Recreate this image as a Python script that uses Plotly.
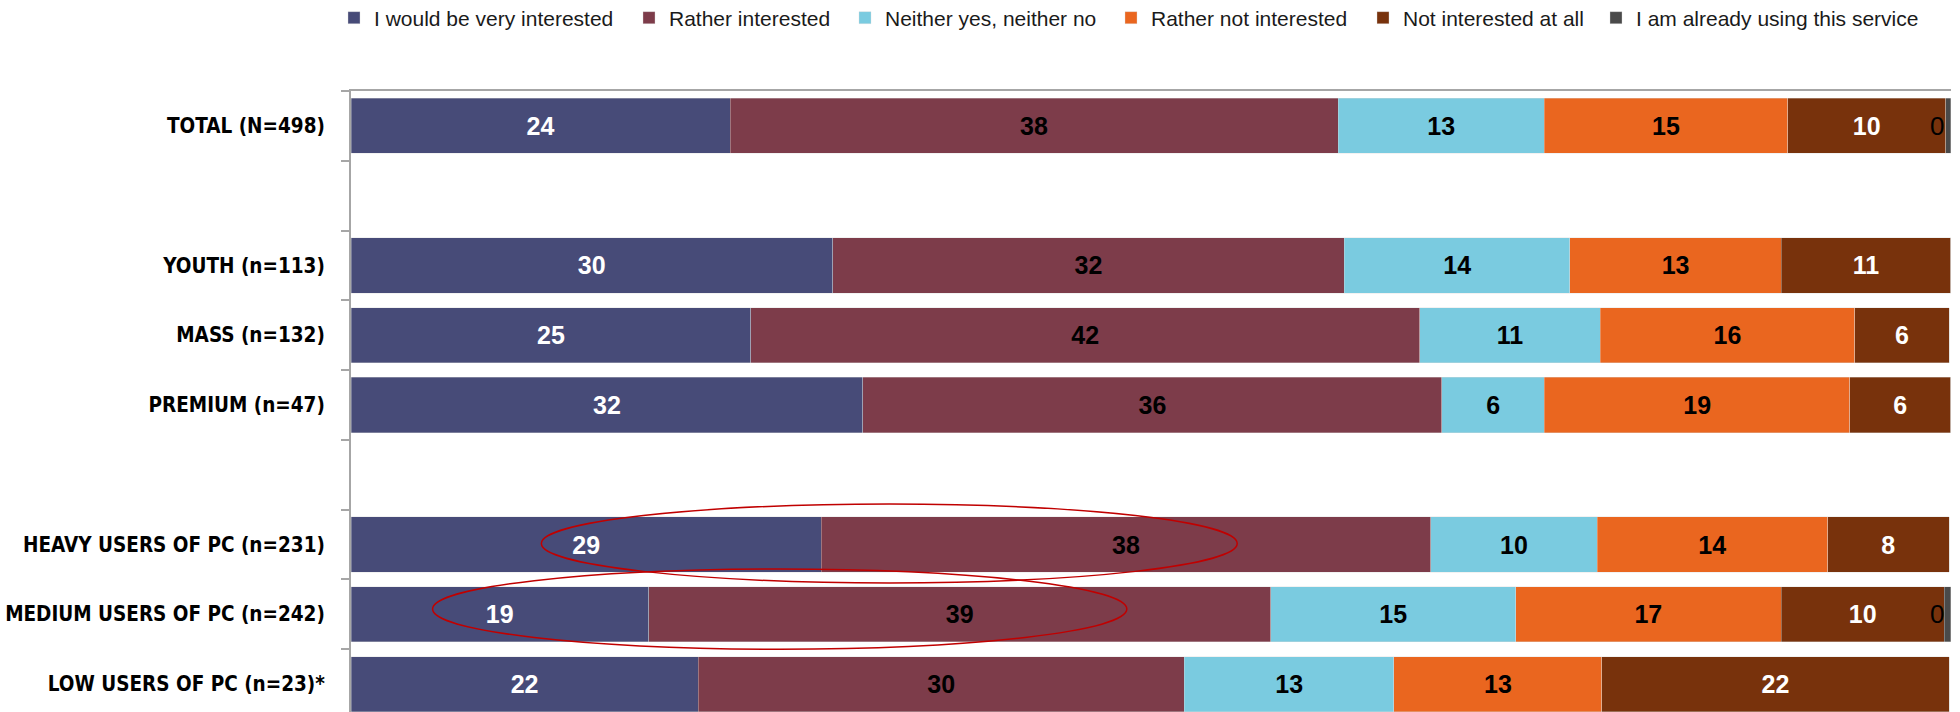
import plotly.graph_objects as go

categories = ["TOTAL (N=498)", " ", "YOUTH (n=113)", "MASS (n=132)", "PREMIUM (n=47)", "  ",
              "HEAVY USERS OF PC (n=231)", "MEDIUM USERS OF PC (n=242)", "LOW USERS OF PC (n=23)*"]

series_names = ["I would be very interested", "Rather interested", "Neither yes, neither no",
                "Rather not interested", "Not interested at all", "I am already using this service"]

very_interested = [23.7, None, 30.1, 25.0, 32.0, None, 29.4, 18.6, 21.7]
rather_interested = [38.0, None, 32.0, 41.8, 36.2, None, 38.1, 38.9, 30.4]
neither = [12.9, None, 14.1, 11.3, 6.4, None, 10.4, 15.3, 13.1]
rather_not = [15.2, None, 13.2, 15.9, 19.1, None, 14.4, 16.6, 13.0]
not_at_all = [9.9, None, 10.6, 5.9, 6.3, None, 7.6, 10.2, 21.7]
already_using = [0.3, None, 0, 0, 0, None, 0, 0.4, 0]

series_values = [very_interested, rather_interested, neither, rather_not, not_at_all, already_using]
colors = ["#474B78", "#7D3C4A", "#7ACBE0", "#EA661F", "#78320C", "#4A4A4A"]
text_colors = ["white", "black", "black", "black", "white", "black"]
legend_widths = [250, 171, 221, 207, 188, 280]

LABEL_FONT = "Liberation Sans, Arial, sans-serif"

fig = go.Figure()
for name, vals, col, tcol, lw in zip(series_names, series_values, colors, text_colors, legend_widths):
    show_text = name != "I am already using this service"
    fig.add_trace(go.Bar(
        y=categories, x=vals, name=name, orientation="h",
        marker=dict(color=col, line=dict(color="rgba(220,220,220,0.6)", width=0.6)),
        texttemplate="<b>%{x:.0f}</b>" if show_text else None,
        textposition="inside" if show_text else "none",
        insidetextanchor="middle", textangle=0,
        insidetextfont=dict(family=LABEL_FONT, size=25, color=tcol),
        legendwidth=lw,
        hoverinfo="x+name",
    ))

# "0" labels for the tiny last segment, right-aligned at the end of the stack
for i, cat in enumerate(categories):
    if already_using[i] is not None and already_using[i] > 0:
        total = sum(s[i] for s in series_values)
        fig.add_annotation(x=total, y=cat, xref="x", yref="y", text=f"{already_using[i]:.0f}",
                           showarrow=False, xanchor="right", xshift=-5,
                           font=dict(family=LABEL_FONT, size=26, color="black"))

# red highlight ellipses
fig.add_shape(type="circle", xref="x", yref="y", x0=11.9, x1=55.4, y0=5.42, y1=6.55,
              line=dict(color="#C00000", width=1.5))
fig.add_shape(type="circle", xref="x", yref="y", x0=5.1, x1=48.5, y0=6.35, y1=7.5,
              line=dict(color="#C00000", width=1.5))

fig.update_layout(
    barmode="stack", bargap=0.21,
    width=1960, height=712,
    margin=dict(l=351, r=9, t=91, b=0, autoexpand=False),
    plot_bgcolor="white", paper_bgcolor="white",
    legend=dict(orientation="h", xref="container", yref="container",
                x=334 / 1960, y=1 - 18 / 712, xanchor="left", yanchor="middle",
                font=dict(family=LABEL_FONT, size=21, color="#1a1a1a"),
                traceorder="normal", itemclick=False, itemwidth=30),
    xaxis=dict(range=[0, 100.02], side="top", showline=True, linecolor="#A6A6A6", linewidth=2,
               showticklabels=False, showgrid=False, zeroline=False, ticks="", automargin=False),
    yaxis=dict(type="category", categoryorder="array", categoryarray=categories,
               range=[8.4, -0.5], showline=True, linecolor="#A6A6A6", linewidth=2,
               ticks="outside", tickson="boundaries", ticklen=8, tickcolor="#A6A6A6", tickwidth=2,
               ticklabelstandoff=20, automargin=False,
               showgrid=False, zeroline=False,
               tickfont=dict(family="DejaVu Sans Condensed, DejaVu Sans, sans-serif", size=20.5,
                             color="black", weight="bold")),
)

fig.write_html("out.html", config={"displayModeBar": False},
               post_script="document.body.style.margin='0';document.body.style.overflow='hidden';")
